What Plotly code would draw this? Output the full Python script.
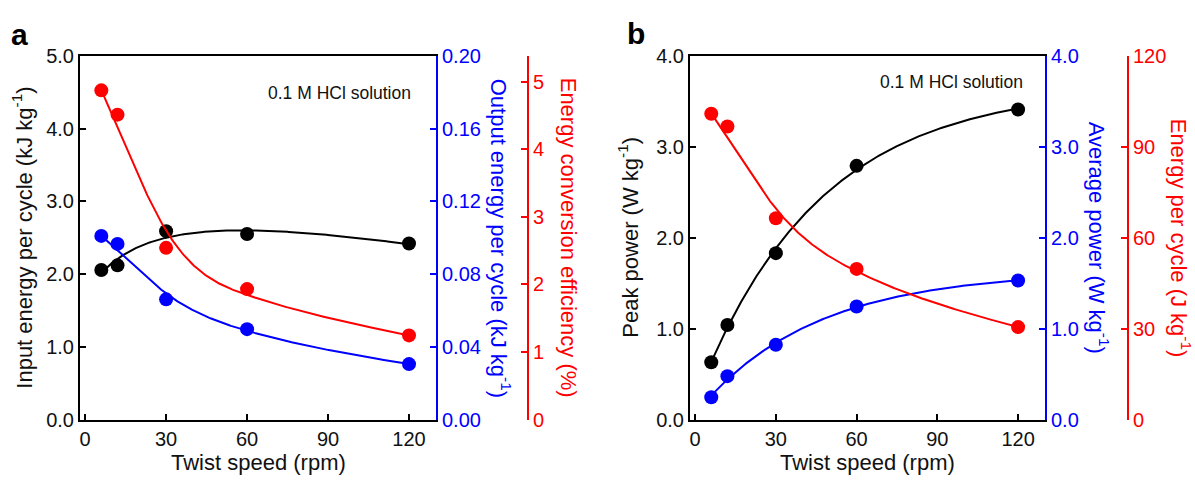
import numpy as np
import plotly.graph_objects as go

# ---- data ---------------------------------------------------------------
twist_speed = [6, 12, 30, 60, 120]  # rpm

# panel a
input_energy = [2.055, 2.12, 2.59, 2.55, 2.42]           # kJ kg-1
output_energy = [0.101, 0.0966, 0.0661, 0.0497, 0.0305]  # kJ kg-1
efficiency = [4.87, 4.51, 2.54, 1.93, 1.245]             # %

# panel b
peak_power = [0.63, 1.04, 1.83, 2.79, 3.41]              # W kg-1
average_power = [0.245, 0.477, 0.823, 1.243, 1.53]       # W kg-1
energy_per_cycle = [100.9, 96.7, 66.4, 49.7, 30.5]       # J kg-1

x_ticks = [0, 30, 60, 90, 120]

BLACK, BLUE, RED = "#000000", "#0000ff", "#ff0000"
FONT = "Liberation Sans, Arial, sans-serif"
TICK_SIZE = 20
TITLE_SIZE = 22
SMOOTH = 5e-4  # roughness penalty of the smoothing-spline trend lines


# ---- trend lines ----------------------------------------------------------
def smoothing_spline(xs, ys, lam=SMOOTH, n=300):
    """Natural cubic smoothing spline (Reinsch) on normalised coordinates."""
    x = np.asarray(xs, float)
    y = np.asarray(ys, float)
    sx, sy = x.max(), np.abs(y).max()
    u, v = x / sx, y / sy
    m = len(u)
    h = np.diff(u)
    Q = np.zeros((m, m - 2))
    R = np.zeros((m - 2, m - 2))
    for j in range(1, m - 1):
        Q[j - 1, j - 1] = 1 / h[j - 1]
        Q[j, j - 1] = -1 / h[j - 1] - 1 / h[j]
        Q[j + 1, j - 1] = 1 / h[j]
        R[j - 1, j - 1] = (h[j - 1] + h[j]) / 3
        if j < m - 2:
            R[j - 1, j] = R[j, j - 1] = h[j] / 6
    w = np.ones(m)
    w[0] = w[-1] = 10.0
    Wm = np.diag(w)
    K = Q @ np.linalg.solve(R, Q.T)
    g = np.linalg.solve(Wm + lam * K, Wm @ v)
    gam = np.zeros(m)
    gam[1:-1] = np.linalg.solve(R, Q.T @ g)
    uu = np.linspace(u[0], u[-1], n)
    idx = np.clip(np.searchsorted(u, uu, side="right") - 1, 0, m - 2)
    xl, xr = u[idx], u[idx + 1]
    hh = xr - xl
    a, b = uu - xl, xr - uu
    f = (b * g[idx] + a * g[idx + 1]) / hh - a * b / 6 * (
        (1 + a / hh) * gam[idx + 1] + (1 + b / hh) * gam[idx])
    return uu * sx, f * sy


def _basis(model, x, q):
    one = np.ones_like(x)
    if model == "expo":      # a + b exp(-x/t)
        (t,) = q
        return np.column_stack([one, np.exp(-x / t)])
    if model == "satlin":    # a + b x/(c+x) + d x
        (c,) = q
        return np.column_stack([one, x / (c + x), x])
    raise ValueError(model)


GRIDS = {
    "expo": [(t,) for t in np.geomspace(3, 400, 400)],
    "satlin": [(c,) for c in np.geomspace(0.5, 400, 400)],
}


def least_squares_fit(xs, ys, model, n=300):
    """Amplitude terms by linear least squares, shape parameter by grid search."""
    x = np.asarray(xs, float)
    y = np.asarray(ys, float)
    best = None
    for q in GRIDS[model]:
        B = _basis(model, x, q)
        coef, *_ = np.linalg.lstsq(B, y, rcond=None)
        sse = float(np.sum((B @ coef - y) ** 2))
        if best is None or sse < best[0]:
            best = (sse, q, coef)
    _, q, coef = best
    xx = np.linspace(x.min(), x.max(), n)
    return xx, _basis(model, xx, q) @ coef


def trend(xs, ys, model):
    if model == "spline":
        return smoothing_spline(xs, ys)
    return least_squares_fit(xs, ys, model)


fig = go.Figure()


def add_series(xs, ys, color, model, xa, ya):
    cx, cy = trend(xs, ys, model)
    fig.add_trace(go.Scatter(x=cx, y=cy, mode="lines", xaxis=xa, yaxis=ya,
                             line=dict(color=color, width=2), showlegend=False,
                             hoverinfo="skip"))
    fig.add_trace(go.Scatter(x=xs, y=ys, mode="markers", xaxis=xa, yaxis=ya,
                             marker=dict(color=color, size=14, line=dict(width=0)),
                             showlegend=False))


# panel a
add_series(twist_speed, input_energy, BLACK, "satlin", "x", "y")
add_series(twist_speed, output_energy, BLUE, "spline", "x", "y2")
add_series(twist_speed, efficiency, RED, "spline", "x", "y3")
# panel b
add_series(twist_speed, peak_power, BLACK, "expo", "x2", "y4")
add_series(twist_speed, average_power, BLUE, "expo", "x2", "y5")
add_series(twist_speed, energy_per_cycle, RED, "spline", "x2", "y6")

W, H = 1195, 484
ydom = [(H - 428) / H, (H - 47) / H]
xdom_a = [80 / W, 436 / W]
xdom_b = [690 / W, 1045 / W]
red_pos_a = 528 / W
red_pos_b = 1128 / W


def xaxis_style(domain, anchor):
    return dict(domain=domain, anchor=anchor, range=[-1.9, 130], tickvals=x_ticks,
                ticks="inside", ticklen=6, tickwidth=2, tickcolor=BLACK,
                showline=True, linecolor=BLACK, linewidth=2, mirror=True,
                showgrid=False, zeroline=False,
                tickfont=dict(family=FONT, size=TICK_SIZE, color="#111"))


def yaxis_style(rng, dtick, fmt, color, **kw):
    d = dict(domain=ydom, range=rng, dtick=dtick, tick0=0, tickformat=fmt,
             ticks="inside", ticklen=6, tickwidth=2, tickcolor=color,
             showline=True, linecolor=color, linewidth=2,
             showgrid=False, zeroline=False,
             tickfont=dict(family=FONT, size=TICK_SIZE,
                           color="#111" if color == BLACK else color))
    d.update(kw)
    return d


fig.update_layout(
    width=W, height=H,
    margin=dict(l=0, r=0, t=0, b=0),
    paper_bgcolor="white", plot_bgcolor="white",
    font=dict(family=FONT),
    xaxis=xaxis_style(xdom_a, "y"),
    xaxis2=xaxis_style(xdom_b, "y4"),
    yaxis=yaxis_style([0, 5], 1, ".1f", BLACK, anchor="x", side="left"),
    yaxis2=yaxis_style([0, 0.2], 0.04, ".2f", BLUE, anchor="x", side="right",
                       overlaying="y"),
    yaxis3=yaxis_style([0, 5.38], 1, "d", RED, anchor="free", side="right",
                       overlaying="y", position=red_pos_a),
    yaxis4=yaxis_style([0, 4], 1, ".1f", BLACK, anchor="x2", side="left"),
    yaxis5=yaxis_style([0, 4], 1, ".1f", BLUE, anchor="x2", side="right",
                       overlaying="y4"),
    yaxis6=yaxis_style([0, 120], 30, "d", RED, anchor="free", side="right",
                       overlaying="y4", position=red_pos_b),
)


def px(x):
    return x / W


def py(y):
    return (H - y) / H


titles = [
    ("Input energy per cycle (kJ kg<sup>-1</sup>)", 22, 237.5, -90, BLACK),
    ("Output energy per cycle (kJ kg<sup>-1</sup>)", 501, 237.5, 90, BLUE),
    ("Energy conversion efficiency (%)", 568, 237.5, 90, RED),
    ("Peak power (W kg<sup>-1</sup>)", 628, 237.5, -90, BLACK),
    ("Average power (W kg<sup>-1</sup>)", 1099, 237.5, 90, BLUE),
    ("Energy per cycle (J kg<sup>-1</sup>)", 1181, 237.5, 90, RED),
    ("Twist speed (rpm)", 258, 473, 0, BLACK),
    ("Twist speed (rpm)", 867.5, 473, 0, BLACK),
]
for text, x, y, ang, col in titles:
    fig.add_annotation(text=text, x=px(x), y=py(y), xref="paper", yref="paper",
                       textangle=ang, showarrow=False, xanchor="center",
                       yanchor="middle",
                       font=dict(family=FONT, size=TITLE_SIZE,
                                 color="#111" if col == BLACK else col))

# solution label inside each panel
for x, y in [(413, 86), (1025, 74)]:
    fig.add_annotation(text="0.1 M HCl solution", x=px(x), y=py(y),
                       xref="paper", yref="paper", showarrow=False,
                       xanchor="right", yanchor="middle",
                       font=dict(family=FONT, size=17.5, color="#111"))

# panel letters
for letter, x, y in [("a", 19, 25), ("b", 636, 24)]:
    fig.add_annotation(text=f"<b>{letter}</b>", x=px(x), y=py(y),
                       xref="paper", yref="paper", showarrow=False,
                       xanchor="center", yanchor="middle",
                       font=dict(family=FONT, size=30, color="#000"))

fig.write_html("out.html")
